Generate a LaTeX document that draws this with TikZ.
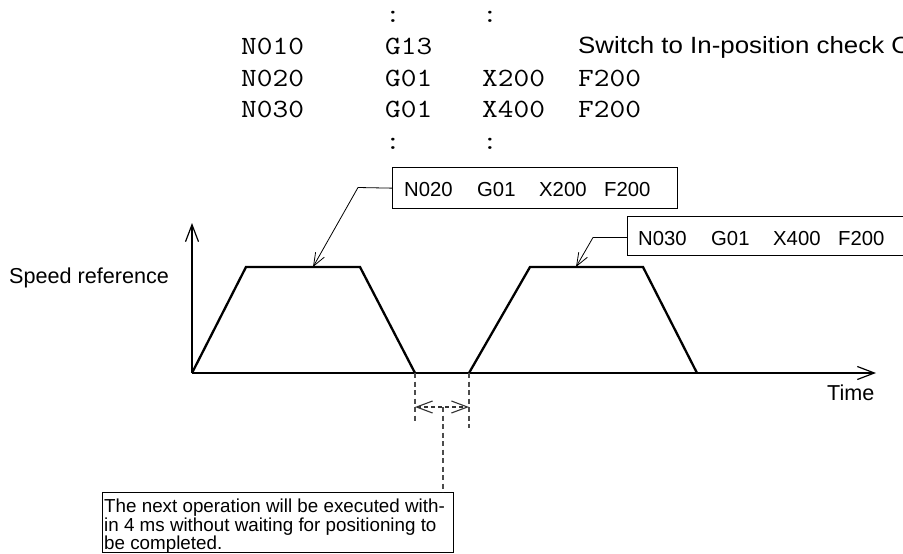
\documentclass[tikz,border=0pt]{standalone}
\usepackage{fontspec}
\setmainfont{Liberation Sans}
\newfontfamily\swfont[FakeStretch=1.1]{Liberation Sans}
\newfontfamily\codefont[FakeStretch=1.16]{Latin Modern Mono}
\usetikzlibrary{arrows.meta}
\begin{document}
\begin{tikzpicture}[x=1pt,y=-1pt,
  lbl/.style={anchor=base west,inner sep=0,font=\fontsize{21.6}{21.6}\selectfont},
  code/.style={anchor=base west,inner sep=0,font=\codefont\fontsize{26.3}{26.3}\selectfont},
  boxtxt/.style={anchor=base west,inner sep=0,font=\fontsize{20.3}{20.3}\selectfont},
  frame/.style={draw,line width=1.3pt,inner sep=0,anchor=north west},
  trap/.style={line width=2.3pt,line join=miter},
  axis/.style={line width=1.2pt,-{Straight Barb[length=17pt,width=13pt]}},
  leader/.style={line width=0.8pt,-{Straight Barb[length=13pt,width=10pt]}},
  dsh/.style={draw=black!70,line width=1.3pt,dash pattern=on 5pt off 3.5pt},
  dsharrow/.style={draw=black!80,line width=1.1pt,dash pattern=on 4pt off 3pt,
     {Straight Barb[length=16pt,width=12pt]}-{Straight Barb[length=16pt,width=12pt]}},
]
\clip (0,0) rectangle (903,554);
\fill[white] (0,0) rectangle (903,554);

% code listing
\node[code] (c1a) at (385,22) {:};
\node[code] (c1b) at (482,22) {:};
\node[code] (n010) at (241,54) {N010};
\node[code] (g13) at (385,54) {G13};
\node[anchor=base west,inner sep=0,font=\swfont\fontsize{23.5}{23.5}\selectfont] (sw) at (578,53) {Switch to In-position check O};
\node[code] (n020) at (241,86) {N020};
\node[code] (g01a) at (385,86) {G01};
\node[code] (x200) at (482,86) {X200};
\node[code] (f200a) at (578,86) {F200};
\node[code] (n030) at (241,117) {N030};
\node[code] (g01b) at (385,117) {G01};
\node[code] (x400) at (482,117) {X400};
\node[code] (f200b) at (578,117) {F200};
\node[code] (c2a) at (385,149) {:};
\node[code] (c2b) at (482,149) {:};

% boxes
\node[frame,minimum width=285pt,minimum height=41pt] (b1) at (392,167) {};
\node[boxtxt] (b1t1) at (404,196) {N020};
\node[boxtxt] (b1t2) at (477,196) {G01};
\node[boxtxt] (b1t3) at (539,196) {X200};
\node[boxtxt] (b1t4) at (604,196) {F200};

\node[frame,minimum width=300pt,minimum height=39pt] (b2) at (627,216) {};
\node[boxtxt] (b2t1) at (638,245) {N030};
\node[boxtxt] (b2t2) at (711,245) {G01};
\node[boxtxt] (b2t3) at (773,245) {X400};
\node[boxtxt] (b2t4) at (838,245) {F200};

% axes
\coordinate (O) at (192,373);
\coordinate (ytip) at (192,223);
\coordinate (xtip) at (876,373);
\draw[axis] (O) -- (ytip);
\draw[axis] (O) -- (xtip);
\node[lbl] (speed) at (9,283) {Speed reference};
\node[lbl] (time) at (827,400) {Time};

% speed profiles
\coordinate (p1a) at (246,267);
\coordinate (p1b) at (360,267);
\coordinate (p1c) at (415,373);
\coordinate (p2o) at (469,373);
\coordinate (p2a) at (530,267);
\coordinate (p2b) at (643,267);
\coordinate (p2c) at (697,373);
\draw[trap] (O) -- (p1a) -- (p1b) -- (p1c);
\draw[trap] (p2o) -- (p2a) -- (p2b) -- (p2c);

% leaders
\coordinate (k1) at (358,187.5);
\coordinate (t1) at (313,267);
\draw[leader] (b1.west) -- (k1) -- (t1);
\coordinate (k2s) at (627,237.5);
\coordinate (k2) at (593,237.5);
\coordinate (t2) at (576,267);
\draw[leader] (k2s) -- (k2) -- (t2);

% dwell interval
\coordinate (d1) at (415,422);
\coordinate (d2) at (469,428);
\draw[dsh] (p1c) -- (d1);
\draw[dsh] (p2o) -- (d2);
\coordinate (a1) at (415,407);
\coordinate (a2) at (469,407);
\draw[dsharrow] (a1) -- (a2);
\coordinate (m) at (443,407);

% note
\node[frame,minimum width=351pt,minimum height=60pt] (note) at (102,492) {};
\draw[dsh] (m) -- (m |- note.north);
\node[anchor=north west,inner sep=0,align=left,font=\fontsize{18.8}{15.5}\selectfont] (notetxt) at (104,499)
  {The next operation will be executed with-\\in 4 ms without waiting for positioning to\\be completed.};
\end{tikzpicture}
\end{document}
